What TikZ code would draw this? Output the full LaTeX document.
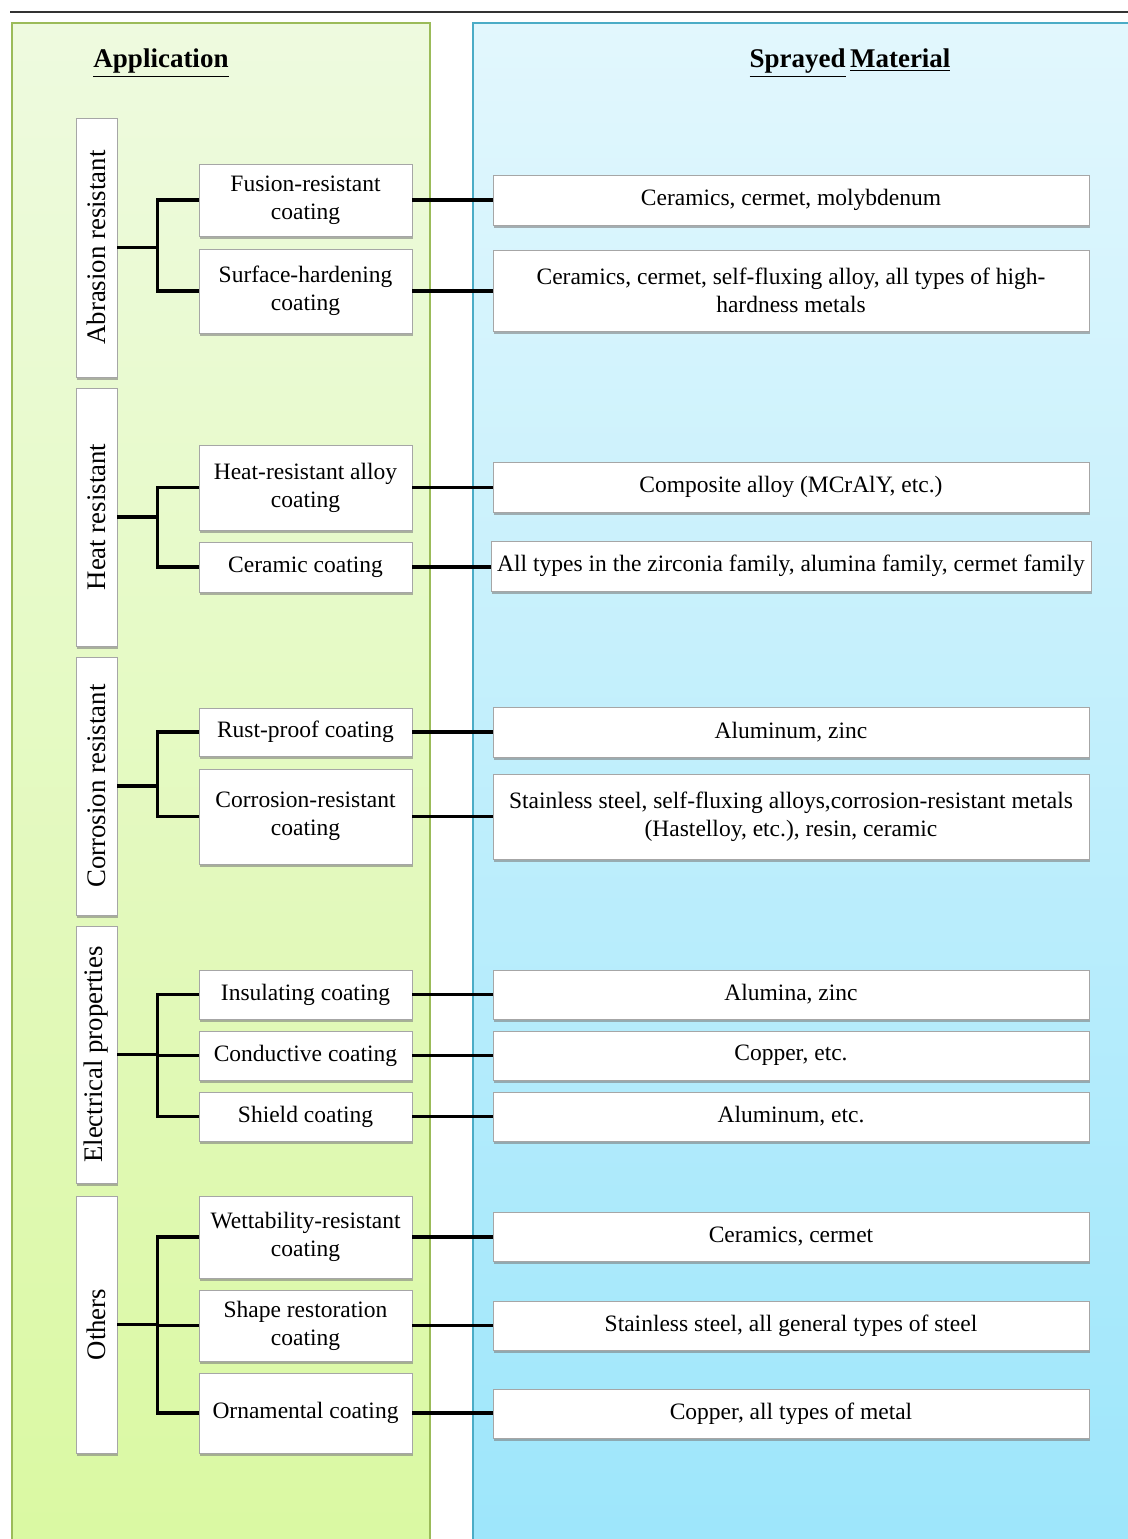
\documentclass[tikz,border=0pt]{standalone}
\usepackage{fontspec}
\setmainfont{Liberation Serif}
\usepackage{graphicx}
\usetikzlibrary{shadows}
\definecolor{gtop}{HTML}{EEFADF}
\definecolor{gbot}{HTML}{DAF9A2}
\definecolor{gline}{HTML}{9BBB59}
\definecolor{btop}{HTML}{E2F7FD}
\definecolor{bbot}{HTML}{9DE6FB}
\definecolor{bline}{HTML}{4BACC6}
\newcommand{\vtxt}[1]{\rotatebox{90}{\fontsize{13.4}{15}\selectfont #1}}
\begin{document}
\begin{tikzpicture}[x=0.5pt,y=-0.5pt,
  base/.style={draw=black!35, line width=0.4pt, fill=white, align=center, inner sep=1pt,
    font=\fontsize{11.75}{14}\selectfont,
    drop shadow={shadow xshift=0.7pt, shadow yshift=-1.3pt, fill=black!50, opacity=0.6}},
  cat/.style={base, minimum width=20.5pt},
  mid/.style={base, minimum width=106.5pt},
  mat/.style={base, minimum width=298pt},
  link/.style={line width=1.7pt, black},
  title/.style={font=\fontsize{13.5}{16}\selectfont\bfseries, inner sep=0pt}]
\clip (0,0) rectangle (1128,1539);
\useasboundingbox (0,0) rectangle (1128,1539);
% top rule
\coordinate (tl) at (10,12);
\coordinate (tr) at (1128,12);
\draw[line width=1.2pt, black!80] (tl) -- (tr);
% panels
\shade[top color=gtop, bottom color=gbot] (12,23) rectangle (430,1550);
\draw[gline, line width=0.8pt] (12,1550) -- (12,23) -- (430,23) -- (430,1550);
\shade[top color=btop, bottom color=bbot] (473,23) rectangle (1140,1550);
\draw[bline, line width=0.8pt] (473,1550) -- (473,23) -- (1140,23);
% titles
\node[title] (tapp) at (161,63) {\underline{Application}};
\node[title] (tmat) at (850,63) {\underline{Sprayed}\,\underline{Material}};
% categories
\node[cat, minimum height=129.5pt] (c1) at (96.5,247.5) {\vtxt{Abrasion resistant}};
\node[cat, minimum height=129pt] (c2) at (96.5,517) {\vtxt{Heat resistant}};
\node[cat, minimum height=129pt] (c3) at (96.5,786) {\vtxt{Corrosion resistant}};
\node[cat, minimum height=128.5pt] (c4) at (96.5,1054.5) {\vtxt{Electrical properties}};
\node[cat, minimum height=128.5pt] (c5) at (96.5,1324.5) {\vtxt{Others}};
% middle
\node[mid, minimum height=36pt] (m1) at (305.5,200) {Fusion-resistant\\coating};
\node[mid, minimum height=42pt] (m2) at (305.5,291) {Surface-hardening\\coating};
\node[mid, minimum height=42.5pt] (m3) at (305.5,487.5) {Heat-resistant alloy\\coating};
\node[mid, minimum height=25pt] (m4) at (305.5,567) {Ceramic coating};
\node[mid, minimum height=24pt] (m5) at (305.5,732) {Rust-proof coating};
\node[mid, minimum height=47.5pt] (m6) at (305.5,816.5) {Corrosion-resistant\\coating};
\node[mid, minimum height=24.5pt] (m7) at (305.5,994.5) {Insulating coating};
\node[mid, minimum height=24.5pt] (m8) at (305.5,1055.5) {Conductive coating};
\node[mid, minimum height=24.5pt] (m9) at (305.5,1116.5) {Shield coating};
\node[mid, minimum height=41pt] (m10) at (305.5,1237) {Wettability-resistant\\coating};
\node[mid, minimum height=35.5pt] (m11) at (305.5,1325.5) {Shape restoration\\coating};
\node[mid, minimum height=40pt] (m12) at (305.5,1413) {Ornamental coating};
% materials
\node[mat, minimum height=25pt] (r1) at (791,200) {Ceramics, cermet, molybdenum};
\node[mat, minimum height=40.5pt] (r2) at (791,290.5) {Ceramics, cermet, self-fluxing alloy, all types of high-\\hardness metals};
\node[mat, minimum height=25pt] (r3) at (791,487) {Composite alloy (MCrAlY, etc.)};
\node[mat, minimum height=25pt, minimum width=300pt] (r4) at (791,566) {All types in the zirconia family, alumina family, cermet family};
\node[mat, minimum height=25pt] (r5) at (791,732) {Aluminum, zinc};
\node[mat, minimum height=42.5pt] (r6) at (791,816.5) {Stainless steel, self-fluxing alloys,corrosion-resistant metals\\(Hastelloy, etc.), resin, ceramic};
\node[mat, minimum height=24.5pt] (r7) at (791,994.5) {Alumina, zinc};
\node[mat, minimum height=24.5pt] (r8) at (791,1055.5) {Copper, etc.};
\node[mat, minimum height=24.5pt] (r9) at (791,1116.5) {Aluminum, etc.};
\node[mat, minimum height=24.5pt] (r10) at (791,1236.5) {Ceramics, cermet};
\node[mat, minimum height=24.5pt] (r11) at (791,1325.5) {Stainless steel, all general types of steel};
\node[mat, minimum height=24.5pt] (r12) at (791,1413.5) {Copper, all types of metal};
% connectors
\foreach \c/\m in {c1/m1,c1/m2,c2/m3,c2/m4,c3/m5,c3/m6,c4/m7,c4/m8,c4/m9,c5/m10,c5/m11,c5/m12}
  \draw[link] (\c.east) -- ++(40,0) |- (\m.west);
\foreach \m/\r in {m1/r1,m2/r2,m3/r3,m4/r4,m5/r5,m6/r6,m7/r7,m8/r8,m9/r9,m10/r10,m11/r11,m12/r12}
  \draw[link] (\m.east) -- (\m.east -| \r.west);
\end{tikzpicture}
\end{document}
